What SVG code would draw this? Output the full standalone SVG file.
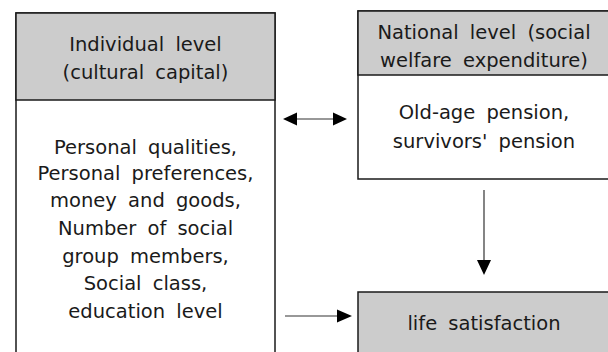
<svg xmlns="http://www.w3.org/2000/svg" width="608" height="352" viewBox="0 0 608 352">
<defs>
<style>
.box{fill:#ffffff;stroke:#1a1a1a;stroke-width:1.5}
.hdr{fill:#cccccc;stroke:#1a1a1a;stroke-width:1.5}
.t{font-family:"DejaVu Sans","Noto Sans CJK KR",sans-serif;font-size:19.5px;fill:#1a1a1a;text-anchor:middle;word-spacing:5px}
.ln{stroke:#333333;stroke-width:1.2;fill:none}
.ah{fill:#000000}
</style>
</defs>
<rect width="608" height="352" fill="#ffffff"/>
<g id="individual">
<rect class="box" x="16" y="13" width="259" height="345"/>
<rect class="hdr" x="16" y="13" width="259" height="87"/>
<text class="t" x="145.5" y="51">Individual level</text>
<text class="t" x="145.5" y="79">(cultural capital)</text>
<text class="t" x="145.5" y="154">Personal qualities,</text>
<text class="t" x="145.5" y="180">Personal preferences,</text>
<text class="t" x="145.5" y="207">money and goods,</text>
<text class="t" x="145.5" y="235">Number of social</text>
<text class="t" x="145.5" y="263">group members,</text>
<text class="t" x="145.5" y="290">Social class,</text>
<text class="t" x="145.5" y="318">education level</text>
</g>
<g id="national">
<rect class="box" x="358" y="11" width="260" height="168"/>
<rect class="hdr" x="358" y="11" width="260" height="64"/>
<text class="t" x="484" y="39">National level (social</text>
<text class="t" x="484" y="67">welfare expenditure)</text>
<text class="t" x="484" y="119">Old-age pension,</text>
<text class="t" x="484" y="148">survivors' pension</text>
</g>
<g id="life">
<rect class="hdr" x="358" y="292" width="260" height="70"/>
<text class="t" x="484" y="330">life satisfaction</text>
</g>
<g id="connectors">
<line class="ln" x1="296" y1="119" x2="334" y2="119"/>
<polygon class="ah" points="283,119 297,112.5 297,125.5"/>
<polygon class="ah" points="347,119 333,112.5 333,125.5"/>
<line class="ln" x1="484" y1="190" x2="484" y2="262"/>
<polygon class="ah" points="484,275 477,260 491,260"/>
<line class="ln" x1="285" y1="316" x2="340" y2="316"/>
<polygon class="ah" points="352,316 337,309.5 337,322.5"/>
</g>
</svg>
